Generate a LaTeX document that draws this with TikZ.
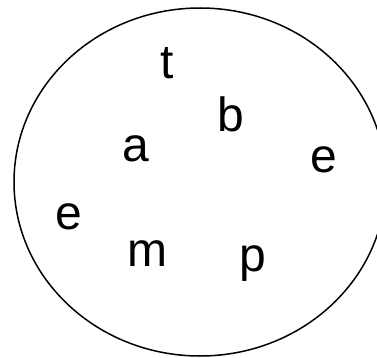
\documentclass[tikz,border=0pt]{standalone}
\usepackage{fontspec}
\setmainfont{Liberation Sans}
\begin{document}
\begin{tikzpicture}[x=1pt,y=-1pt,
  letter/.style={anchor=base,inner sep=0pt,font=\fontsize{48}{48}\selectfont}]
\useasboundingbox (0,0) rectangle (377,358);
\clip (0,0) rectangle (377,358);
\draw[line width=1.5pt] (200,182) ellipse [x radius=186, y radius=174];
\node[letter] (t) at (167,79) {t};
\node[letter] (b) at (230.5,132) {b};
\node[letter] (a) at (136,161) {a};
\node[letter] (e1) at (324,172) {e};
\node[letter] (e2) at (69,229) {e};
\node[letter] (m) at (147.5,266) {m};
\node[letter] (p) at (252.5,271) {p};
\end{tikzpicture}
\end{document}
